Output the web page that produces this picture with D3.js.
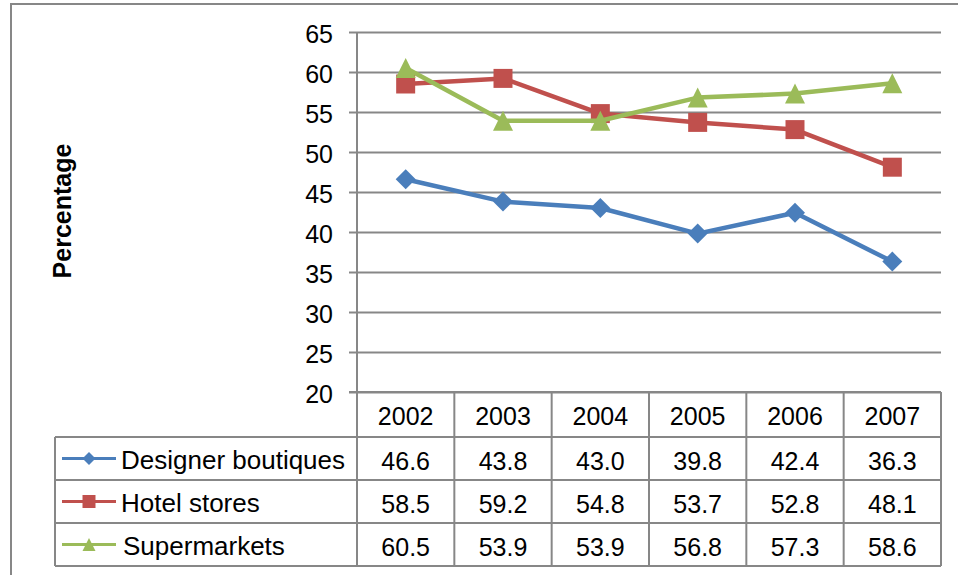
<!DOCTYPE html>
<html>
<head>
<meta charset="utf-8">
<script src="https://cdnjs.cloudflare.com/ajax/libs/d3/7.8.5/d3.min.js"></script>
<style>
    body { margin: 0; background: #fff; }
    svg { display: block; font-family: "Liberation Sans", Arial, sans-serif; }
</style>
</head>
<body>
<div id="chart"></div>
<script>
// chart data
const years = ["2002", "2003", "2004", "2005", "2006", "2007"];
const seriesNames = ["Designer boutiques", "Hotel stores", "Supermarkets"];
const designerBoutiques = [46.6, 43.8, 43.0, 39.8, 42.4, 36.3];
const hotelStores = [58.5, 59.2, 54.8, 53.7, 52.8, 48.1];
const supermarkets = [60.5, 53.9, 53.9, 56.8, 57.3, 58.6];
const yTicks = [20, 25, 30, 35, 40, 45, 50, 55, 60, 65];

const colors = ["#4a7ebb", "#c0504d", "#9bbb59"];
const seriesValues = [designerBoutiques, hotelStores, supermarkets];

const width = 958, height = 575;
const plot = { left: 357, right: 941, top: 32, bottom: 392 };
const tableLeft = 55;
const headerBottom = 437;
const rowHeight = 43;
const gridColor = "#878787";
const fontSize = 25;

const svg = d3.select("#chart")
    .append("svg")
    .attr("width", width)
    .attr("height", height);

// outer border
svg.append("rect")
    .attr("x", 11).attr("y", 4)
    .attr("width", width + 20).attr("height", height + 20)
    .attr("fill", "none")
    .attr("stroke", gridColor)
    .attr("stroke-width", 2);

const x = d3.scaleBand().domain(years).range([plot.left, plot.right]);
const y = d3.scaleLinear().domain([20, 65]).range([plot.bottom, plot.top]);

// y axis with gridlines
const yAxis = svg.append("g")
    .attr("transform", `translate(${plot.left},0)`)
    .call(d3.axisLeft(y).tickValues(yTicks).tickSize(-(plot.right - plot.left)).tickPadding(0));

yAxis.select(".domain").remove();
yAxis.selectAll(".tick line")
    .attr("x1", -8)
    .attr("stroke", gridColor)
    .attr("stroke-width", 2);
yAxis.selectAll(".tick text")
    .attr("x", -24)
    .attr("dy", "0.42em")
    .attr("font-size", fontSize)
    .attr("fill", "#000");

// vertical axis line
svg.append("line")
    .attr("x1", plot.left).attr("x2", plot.left)
    .attr("y1", plot.top).attr("y2", plot.bottom)
    .attr("stroke", gridColor).attr("stroke-width", 2);

// y label
svg.append("text")
    .attr("transform", `translate(71,${(143 + 279) / 2}) rotate(-90)`)
    .attr("text-anchor", "middle")
    .attr("font-size", 25)
    .attr("font-weight", "bold")
    .text("Percentage");

// custom triangle centred on its box
const boxTriangle = {
    draw(context, size) {
        const w = Math.sqrt(size);
        context.moveTo(0, -w / 2);
        context.lineTo(w / 2, w / 2);
        context.lineTo(-w / 2, w / 2);
        context.closePath();
    }
};
const diamond = {
    draw(context, size) {
        const r = Math.sqrt(size) / 2;
        context.moveTo(0, -r);
        context.lineTo(r, 0);
        context.lineTo(0, r);
        context.lineTo(-r, 0);
        context.closePath();
    }
};
const markerTypes = [diamond, d3.symbolSquare, boxTriangle];
const markerSizes = [20 * 20, 19 * 19, 20 * 20];
const legendSizes = [13 * 13, 13 * 13, 13 * 13];

const line = d3.line()
    .x((d, i) => x(years[i]) + x.bandwidth() / 2)
    .y(d => y(d));

seriesValues.forEach((vals, s) => {
    svg.append("path")
        .datum(vals)
        .attr("d", line)
        .attr("fill", "none")
        .attr("stroke", colors[s])
        .attr("stroke-width", 4.5)
        .attr("stroke-linejoin", "round");

    svg.selectAll(`path.marker-${s}`)
        .data(vals)
        .enter().append("path")
        .attr("class", `marker-${s}`)
        .attr("transform", (d, i) => `translate(${x(years[i]) + x.bandwidth() / 2},${y(d)})`)
        .attr("d", d3.symbol().type(markerTypes[s]).size(markerSizes[s]))
        .attr("fill", colors[s]);
});

// data table
const table = svg.append("g");
const tableBottom = headerBottom + rowHeight * 3;

// horizontal lines
table.append("line")
    .attr("x1", plot.left - 8).attr("x2", plot.right)
    .attr("y1", plot.bottom).attr("y2", plot.bottom);
[0, 1, 2, 3].forEach(r => {
    table.append("line")
        .attr("x1", tableLeft).attr("x2", plot.right)
        .attr("y1", headerBottom + r * rowHeight).attr("y2", headerBottom + r * rowHeight);
});
// vertical lines
table.append("line")
    .attr("x1", tableLeft).attr("x2", tableLeft)
    .attr("y1", headerBottom).attr("y2", tableBottom);
years.forEach(yr => {
    table.append("line")
        .attr("x1", x(yr)).attr("x2", x(yr))
        .attr("y1", plot.bottom).attr("y2", tableBottom);
});
table.append("line")
    .attr("x1", plot.right).attr("x2", plot.right)
    .attr("y1", plot.bottom).attr("y2", tableBottom);
table.selectAll("line")
    .attr("stroke", gridColor)
    .attr("stroke-width", 2);

// header years
table.selectAll("text.year")
    .data(years)
    .enter().append("text")
    .attr("class", "year")
    .attr("x", d => x(d) + x.bandwidth() / 2)
    .attr("y", (plot.bottom + headerBottom) / 2 + 10)
    .attr("text-anchor", "middle")
    .attr("font-size", fontSize)
    .text(d => d);

// rows
seriesValues.forEach((vals, s) => {
    const cy = headerBottom + rowHeight * s + rowHeight / 2;

    table.selectAll(`text.val-${s}`)
        .data(vals)
        .enter().append("text")
        .attr("class", `val-${s}`)
        .attr("x", (d, i) => x(years[i]) + x.bandwidth() / 2)
        .attr("y", cy + 11)
        .attr("text-anchor", "middle")
        .attr("font-size", fontSize)
        .text(d => d.toFixed(1));

    table.append("line")
        .attr("x1", 62).attr("x2", 116)
        .attr("y1", cy).attr("y2", cy)
        .attr("stroke", colors[s])
        .attr("stroke-width", 3);

    table.append("path")
        .attr("transform", `translate(89,${cy})`)
        .attr("d", d3.symbol().type(markerTypes[s]).size(legendSizes[s]))
        .attr("fill", colors[s]);

    table.append("text")
        .attr("x", s === 2 ? 123 : 121)
        .attr("y", cy + 10)
        .attr("font-size", 26)
        .text(seriesNames[s]);
});
</script>
</body>
</html>
